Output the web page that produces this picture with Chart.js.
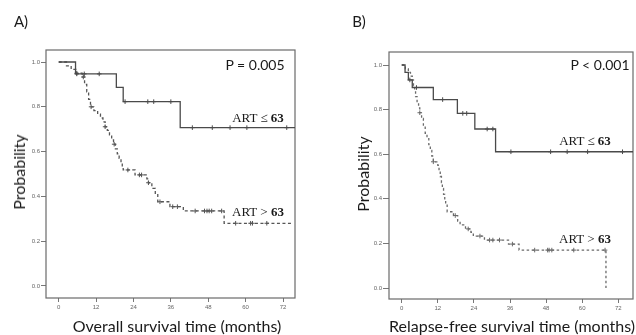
<!DOCTYPE html>
<html>
<head>
<meta charset="utf-8">
<script src="https://cdn.jsdelivr.net/npm/chart.js@4.4.1/dist/chart.umd.min.js"></script>
<style>
  html, body { margin: 0; padding: 0; background: #fff; overflow: hidden; }
  body { width: 636px; height: 335px; position: relative; }
  canvas { position: absolute; }
  .t { position: absolute; white-space: nowrap; transform: translate(-50%, -50%); color: #1a1a1a; line-height: 1; font-weight: 400; }
  .sans { font-family: Lato, "Open Sans", sans-serif; }
  .serif { font-family: "Liberation Serif", "DejaVu Serif", serif; font-size: 13px; }
  .rot { transform: translate(-50%, -50%) rotate(-90deg); }
</style>
</head>
<body>
<canvas id="chartA" width="310" height="335" style="left:0;top:0"></canvas>
<canvas id="chartB" width="322" height="335" style="left:316px;top:0"></canvas>

<div class="t sans" style="left:21px;top:21px;font-size:15px">A)</div>
<div class="t sans" style="left:359px;top:21px;font-size:15px">B)</div>
<div class="t sans" style="left:255px;top:65px;font-size:14px">P = 0.005</div>
<div class="t sans" style="left:600px;top:65px;font-size:14px">P &lt; 0.001</div>
<div class="t serif" style="left:258px;top:117px">ART ≤ <b>63</b></div>
<div class="t serif" style="left:258px;top:211px">ART &gt; <b>63</b></div>
<div class="t serif" style="left:585px;top:140px">ART ≤ <b>63</b></div>
<div class="t serif" style="left:585px;top:238px">ART &gt; <b>63</b></div>
<div class="t sans" style="left:177px;top:326px;font-size:16px">Overall survival time (months)</div>
<div class="t sans" style="left:512px;top:326px;font-size:16px">Relapse-free survival time (months)</div>
<div class="t sans rot" style="left:19px;top:172px;font-size:16px">Probability</div>
<div class="t sans rot" style="left:363px;top:174px;font-size:16px">Probability</div>

<script>
// tick labels
const xTicks = [0, 12, 24, 36, 48, 60, 72];
const yTicks = [0.0, 0.2, 0.4, 0.6, 0.8, 1.0];

// A) overall survival, ART <= 63 (solid)
const osLowTime = [0, 5.4, 18.5, 20.7, 39.0, 77];
const osLowSurv = [1.0, 0.947, 0.887, 0.823, 0.707, 0.707];
const osLowCensTime = [5.8, 8.2, 13.0, 21.3, 28.6, 30.5, 36.0, 42.9, 49.3, 55.0, 60.4, 73.2];
const osLowCensSurv = [0.947, 0.947, 0.947, 0.823, 0.823, 0.823, 0.823, 0.707, 0.707, 0.707, 0.707, 0.707];

// A) overall survival, ART > 63 (dashed)
const osHighTime = [0, 2.5, 4.0, 5.5, 7.5, 8.3, 9.0, 9.6, 10.2, 11.3, 12.5, 13.4, 14.2, 14.9, 15.6, 16.3, 17.0, 17.6, 18.2, 18.8, 19.4, 20.0, 20.4, 20.7, 24.5, 28.3, 28.8, 29.9, 31.0, 31.8, 35.7, 40.0, 53.1, 75.3];
const osHighSurv = [1.0, 0.983, 0.967, 0.95, 0.933, 0.90, 0.867, 0.833, 0.80, 0.783, 0.767, 0.75, 0.733, 0.711, 0.695, 0.675, 0.652, 0.633, 0.612, 0.59, 0.57, 0.55, 0.533, 0.518, 0.496, 0.478, 0.461, 0.436, 0.414, 0.376, 0.354, 0.335, 0.28, 0.28];
const osHighCensTime = [5.8, 7.9, 10.4, 14.9, 17.8, 22.2, 25.9, 26.6, 28.8, 32.5, 36.6, 38.1, 43.8, 46.8, 47.6, 48.3, 49.1, 52.3, 56.8, 61.6, 62.2, 66.8];
const osHighCensSurv = [0.95, 0.933, 0.80, 0.711, 0.633, 0.518, 0.496, 0.496, 0.461, 0.376, 0.354, 0.354, 0.335, 0.335, 0.335, 0.335, 0.335, 0.335, 0.28, 0.28, 0.28, 0.28];

// B) relapse-free survival, ART <= 63 (solid)
const rfsLowTime = [0, 1.1, 2.2, 3.5, 10.5, 18.5, 24.3, 31.2, 78];
const rfsLowSurv = [1.0, 0.967, 0.933, 0.899, 0.845, 0.783, 0.713, 0.611, 0.611];
const rfsLowCensTime = [2.7, 4.9, 13.6, 20.3, 21.6, 28.4, 30.3, 36.3, 49.5, 55.0, 61.8, 73.4];
const rfsLowCensSurv = [0.933, 0.899, 0.845, 0.783, 0.783, 0.713, 0.713, 0.611, 0.611, 0.611, 0.611, 0.611];

// B) relapse-free survival, ART > 63 (dashed)
const rfsHighTime = [0, 1.2, 2.2, 2.9, 3.5, 3.9, 4.3, 4.6, 5.1, 5.6, 6.0, 6.6, 7.2, 7.8, 8.4, 9.0, 9.5, 10.0, 10.5, 12.0, 12.4, 12.8, 13.2, 13.5, 13.9, 14.3, 14.6, 15.1, 17.2, 18.6, 19.4, 21.2, 23.0, 23.8, 27.5, 35.5, 39.0, 67.9];
const rfsHighSurv = [1.0, 0.983, 0.967, 0.95, 0.933, 0.908, 0.883, 0.858, 0.833, 0.808, 0.786, 0.76, 0.727, 0.694, 0.67, 0.643, 0.617, 0.592, 0.566, 0.55, 0.525, 0.50, 0.473, 0.447, 0.42, 0.395, 0.375, 0.342, 0.325, 0.30, 0.283, 0.265, 0.25, 0.233, 0.215, 0.197, 0.17, 0.0];
const rfsHighCensTime = [6.0, 10.5, 17.8, 22.1, 26.0, 29.2, 30.3, 32.5, 36.8, 44.2, 48.5, 49.0, 49.9, 57.2, 67.6];
const rfsHighCensSurv = [0.786, 0.566, 0.325, 0.265, 0.233, 0.215, 0.215, 0.215, 0.197, 0.17, 0.17, 0.17, 0.17, 0.17, 0.17];

const toPoints = (xs, ys) => xs.map((x, i) => ({ x, y: ys[i] }));

const boxPlugin = {
  id: 'box',
  beforeDatasetsDraw(chart) {
    const { ctx, chartArea: a } = chart;
    ctx.save();
    ctx.strokeStyle = '#6a6a6a';
    ctx.lineWidth = 1.2;
    ctx.strokeRect(a.left, a.top, a.right - a.left, a.bottom - a.top);
    ctx.restore();
  }
};

function curve(times, surv, color, dash) {
  return {
    type: 'line',
    data: toPoints(times, surv),
    stepped: true,
    borderColor: color,
    borderWidth: 1.3,
    borderDash: dash,
    pointRadius: 0,
    fill: false
  };
}

function censor(times, surv, color) {
  return {
    type: 'scatter',
    data: toPoints(times, surv),
    pointStyle: 'cross',
    pointRadius: 2.3,
    borderColor: color,
    borderWidth: 1,
    backgroundColor: color
  };
}

function makeChart(id, datasets, box) {
  return new Chart(document.getElementById(id), {
    type: 'line',
    data: { datasets },
    options: {
      responsive: false,
      animation: false,
      devicePixelRatio: 1,
      layout: { padding: { top: box.top, right: box.right, bottom: 0, left: 0 } },
      plugins: { legend: { display: false }, tooltip: { enabled: false } },
      scales: {
        x: {
          type: 'linear',
          min: box.xMin,
          max: box.xMax,
          afterFit: s => { s.height = box.xHeight; },
          afterBuildTicks: s => { s.ticks = xTicks.map(v => ({ value: v })); },
          grid: { drawOnChartArea: false, drawTicks: true, tickLength: 4, color: '#777' },
          border: { display: false },
          ticks: {
            padding: 2,
            color: '#666',
            font: { family: 'Liberation Sans', size: 6 },
            maxRotation: 0,
            callback: v => String(v)
          }
        },
        y: {
          type: 'linear',
          min: box.yMin,
          max: box.yMax,
          afterFit: s => { s.width = box.yWidth; },
          afterBuildTicks: s => { s.ticks = yTicks.map(v => ({ value: v })); },
          grid: { drawOnChartArea: false, drawTicks: true, tickLength: box.tickLen, color: '#777' },
          border: { display: false },
          ticks: {
            padding: 1,
            color: '#666',
            font: { family: 'Liberation Sans', size: 6 },
            callback: v => Number(v).toFixed(1)
          }
        }
      }
    },
    plugins: [boxPlugin]
  });
}

const solidA = '#4a4a4a';
const dashA = '#555';
makeChart('chartA', [
  curve(osLowTime, osLowSurv, solidA, []),
  curve(osHighTime, osHighSurv, dashA, [3, 2.5]),
  censor(osLowCensTime, osLowCensSurv, solidA),
  censor(osHighCensTime, osHighCensSurv, dashA)
], { top: 50, right: 15, xHeight: 37, yWidth: 46, tickLen: 5,
     xMin: -4.08, xMax: 75.85, yMin: -0.0536, yMax: 1.0536 });

const solidB = '#4a4a4a';
const dashB = '#6a6a6a';
makeChart('chartB', [
  curve(rfsLowTime, rfsLowSurv, solidB, []),
  curve(rfsHighTime, rfsHighSurv, dashB, [2.5, 2.5]),
  censor(rfsLowCensTime, rfsLowCensSurv, solidB),
  censor(rfsHighCensTime, rfsHighCensSurv, dashB)
], { top: 52, right: 0, xHeight: 36, yWidth: 73, tickLen: 6,
     xMin: -4.235, xMax: 76.89, yMin: -0.0493, yMax: 1.0583 });
</script>
</body>
</html>
